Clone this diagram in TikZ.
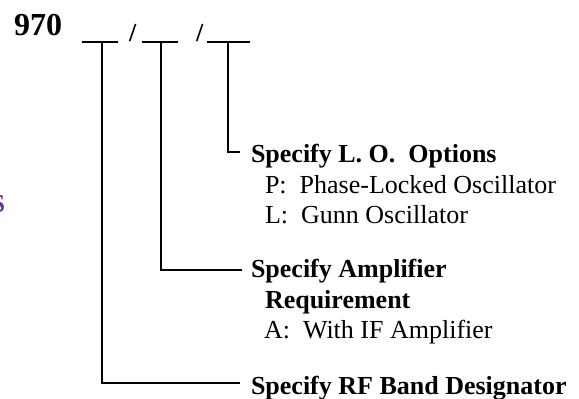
\documentclass[tikz,border=0pt]{standalone}
\usepackage{fontspec}
\setmainfont{Liberation Serif}
\definecolor{glyphpurple}{RGB}{112,48,160}
\tikzset{
  lbl/.style={anchor=base west, inner sep=0pt, outer sep=0pt, font=\fontsize{26}{30}\selectfont},
  blbl/.style={lbl, font=\fontsize{26}{30}\selectfont\bfseries},
  conn/.style={line width=2.4pt, line cap=butt, line join=miter},
}
\begin{document}
\begin{tikzpicture}[x=1pt,y=-1pt]
\useasboundingbox (0,0) rectangle (579,399);
\begin{scope}
\clip (0,0) rectangle (579,399);
\node[blbl, anchor=base east, text=glyphpurple] (cut) at (5,212) {S};
\end{scope}
\node[blbl, font=\fontsize{32}{36}\selectfont\bfseries] (num) at (14,35) {970};
% blanks
\coordinate (s1a) at (82,42);  \coordinate (s1b) at (118,42);
\coordinate (s2a) at (142,42); \coordinate (s2b) at (178,42);
\coordinate (s3a) at (207,42); \coordinate (s3b) at (250,42);
\node[blbl] (sl1) at (129,41) {/};
\node[blbl] (sl2) at (196,41) {/};
\draw[conn] (s1a) -- (s1b);
\draw[conn] (s2a) -- (s2b);
\draw[conn] (s3a) -- (s3b);
\coordinate (b1) at (102,42);
\coordinate (b2) at (161,42);
\coordinate (b3) at (228,42);
\coordinate (e1) at (240,383);
\coordinate (e2) at (242,270);
\coordinate (e3) at (240,152);
\draw[conn] (b1) |- (e1);
\draw[conn] (b2) |- (e2);
\draw[conn] (b3) |- (e3);
% texts
\node[blbl] (lo) at (251,162) {Specify L. O.\ \ Options};
\node[lbl] (lop) at (265,193) {P:\ \ Phase-Locked Oscillator};
\node[lbl] (lol) at (265,223) {L:\ \ Gunn Oscillator};
\node[blbl] (amp) at (251,277) {Specify Amplifier};
\node[blbl] (req) at (265,308) {Requirement};
\node[lbl] (ampa) at (264,338) {A:\ \ With IF Amplifier};
\node[blbl] (rf) at (251,394) {Specify RF Band Designator};
\end{tikzpicture}
\end{document}
